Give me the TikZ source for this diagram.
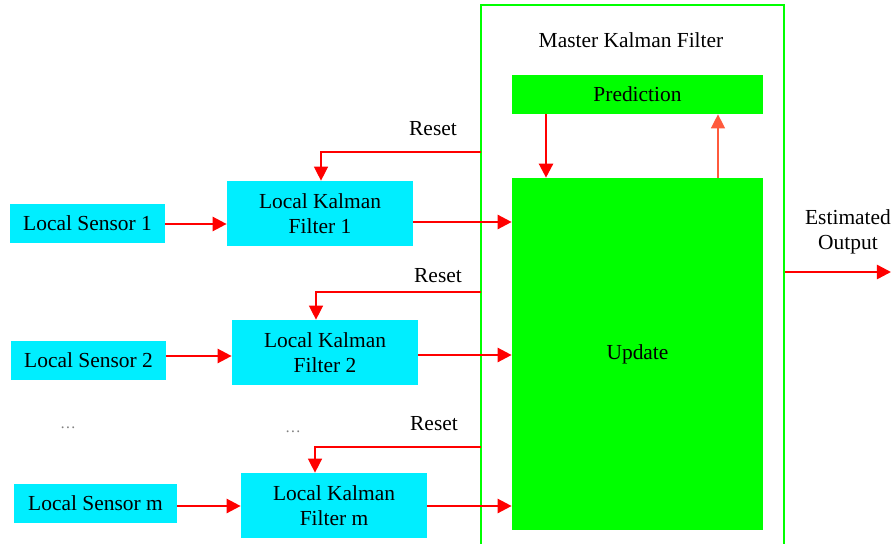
\documentclass[tikz,border=0pt]{standalone}
\usepackage{fontspec}
\setmainfont{Liberation Serif}
\usepackage{tikz}
\usetikzlibrary{arrows.meta, positioning}
\definecolor{boxcyan}{RGB}{0,238,255}
\definecolor{boxgreen}{RGB}{0,255,0}
\definecolor{linkred}{RGB}{255,0,0}
\definecolor{backred}{RGB}{255,90,60}
\tikzstyle{sensor} = [rectangle, fill=boxcyan, text centered, inner sep=0pt, minimum width=3.1cm, minimum height=0.78cm]
\tikzstyle{localkf} = [rectangle, fill=boxcyan, align=center, inner sep=0pt, minimum width=3.72cm, minimum height=1.3cm]
\tikzstyle{stage} = [rectangle, fill=boxgreen, text centered, inner sep=0pt, minimum width=5.02cm]
\tikzstyle{arrow} = [line width=1.4pt, linkred, -{Triangle[length=8pt, width=8pt]}]
\tikzstyle{reset} = [line width=0.8pt, linkred, -{Triangle[length=8pt, width=8pt]}]

\begin{document}
\begin{tikzpicture}[x=0.02cm, y=-0.02cm, font=\fontsize{12.2}{14}\selectfont]
    \useasboundingbox (0,0) rectangle (896,544);
    % Master filter
    \node (master) [rectangle, draw=boxgreen, line width=1.6pt, minimum width=6.06cm, minimum height=11.1cm] at (632.5,282.5) {};
    \node (mastertitle) at (631,40) {Master Kalman Filter};
    \node (predict) [stage, minimum height=0.78cm] at (637.5,94.5) {Prediction};
    \node (update) [stage, minimum height=7.04cm] at (637.5,354) {Update};

    % Local sensors and filters
    \node (sensor1) [sensor] at (87.5,223.5) {Local Sensor 1};
    \node (lkf1) [localkf] at (320,213.5) {Local Kalman\\Filter 1};
    \node (sensor2) [sensor] at (88.5,360.5) {Local Sensor 2};
    \node (lkf2) [localkf] at (325,352.5) {Local Kalman\\Filter 2};
    \node (dots1) [font=\small, gray] at (68,428) {\dots};
    \node (dots2) [font=\small, gray] at (293,432) {\dots};
    \node (sensorm) [sensor, minimum width=3.26cm] at (95.5,503.5) {Local Sensor m};
    \node (lkfm) [localkf] at (334,505.5) {Local Kalman\\Filter m};

    % Reset points on the master box
    \coordinate (r1) at (481,152);
    \coordinate (r2) at (481,292);
    \coordinate (rm) at (481,447);
    \node (reset1) at (433,129) {Reset};
    \node (reset2) at (438,276) {Reset};
    \node (resetm) at (434,424) {Reset};

    % Output
    \coordinate (out) at (891,272);
    \node (outlabel) [align=center] at (848,232) {Estimated\\Output};

    % Arrows
    \draw [arrow] (sensor1.east |- 0,224) -- (lkf1.west |- 0,224);
    \draw [arrow] (sensor2.east |- 0,356) -- (lkf2.west |- 0,356);
    \draw [arrow] (sensorm.east |- 0,506) -- (lkfm.west |- 0,506);
    \draw [arrow] (lkf1.east |- 0,222) -- (update.west |- 0,222);
    \draw [arrow] (lkf2.east |- 0,355) -- (update.west |- 0,355);
    \draw [arrow] (lkfm.east |- 0,506) -- (update.west |- 0,506);
    \draw [reset] (r1) -| ([xshift=0.02cm]lkf1.north);
    \draw [reset] (r2) -| ([xshift=-0.18cm]lkf2.north);
    \draw [reset] (rm) -| ([xshift=-0.38cm]lkfm.north);
    \draw [arrow] ([xshift=-1.83cm]predict.south) -- ([xshift=-1.83cm]update.north);
    \draw [reset, backred] ([xshift=1.61cm]update.north) -- ([xshift=1.61cm]predict.south);
    \draw [arrow] (master.east |- out) -- (out);
\end{tikzpicture}
\end{document}
